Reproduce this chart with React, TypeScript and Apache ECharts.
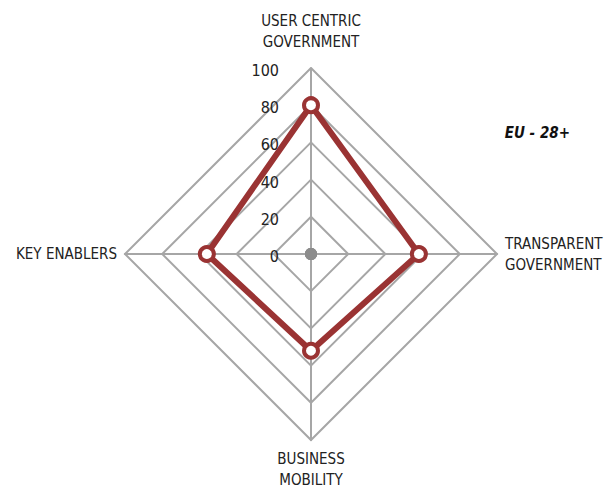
import React, { useEffect, useRef } from "react";
import * as echarts from "echarts";

// Indicators listed counter-clockwise from the top (ECharts order)
const indicatorNames = ["USER CENTRIC\nGOVERNMENT", "KEY ENABLERS", "BUSINESS\nMOBILITY", "TRANSPARENT\nGOVERNMENT"];
const seriesName = "EU - 28+";
const seriesValues = [80, 56, 52, 58];
const centerValues = [0, 0, 0, 0];
const axisMax = 100;

const FONT = "'Liberation Sans Narrow', 'DejaVu Sans Condensed', 'Roboto', sans-serif";

export default function App() {
  const ref = useRef<HTMLDivElement>(null);
  useEffect(() => {
    if (!ref.current) return;
    const chart = echarts.init(ref.current, undefined, { renderer: "svg" });
    chart.setOption({
      animation: false,
      backgroundColor: "#ffffff",
      title: {
        text: seriesName,
        right: 31,
        top: 120,
        textStyle: { fontFamily: FONT, fontSize: 15, fontWeight: "bold", fontStyle: "italic", color: "#111" },
      },
      radar: {
        center: [311, 254],
        radius: 186,
        shape: "polygon",
        startAngle: 90,
        splitNumber: 5,
        nameGap: 8,
        axisName: {
          color: "#222",
          fontFamily: FONT,
          fontSize: 15,
          lineHeight: 21,
          formatter: (name: string) => {
            const lines = name.split("\n").map((l) => `{a|${l}}`).join("\n");
            return name.startsWith("USER") ? `${lines}\n{gap|}` : lines;
          },
          rich: {
            a: { fontFamily: FONT, fontSize: 15, lineHeight: 21, color: "#222" },
            gap: { fontSize: 1, lineHeight: 8 },
          },
        },
        indicator: indicatorNames.map((name, i) =>
          i === 0
            ? { name, max: axisMax, min: 0, axisLabel: { show: true } }
            : { name, max: axisMax, min: 0 }
        ),
        axisLabel: {
          show: false,
          color: "#222",
          fontFamily: FONT,
          fontSize: 16,
          margin: 32,
          formatter: (v: number) => `{v|${v}}`,
          rich: {
            v: { fontFamily: FONT, fontSize: 16, color: "#222", padding: [5, 0, 0, 0] },
          },
        },
        axisLine: { lineStyle: { color: "#a6a6a6", width: 2 } },
        splitLine: { lineStyle: { color: "#a6a6a6", width: 2 } },
        splitArea: { show: false },
      },
      series: [
        {
          type: "radar",
          data: [
            {
              name: seriesName,
              value: seriesValues,
              symbol: "circle",
              symbolSize: 14,
              lineStyle: { color: "#9a3333", width: 6 },
              itemStyle: { color: "#ffffff", borderColor: "#9a3333", borderWidth: 4 },
            },
            {
              name: "center",
              value: centerValues,
              symbol: "circle",
              symbolSize: 12,
              lineStyle: { width: 0, opacity: 0 },
              itemStyle: { color: "#8c8c8c", borderWidth: 0 },
            },
          ],
        },
      ],
    });
    return () => chart.dispose();
  }, []);
  return <div ref={ref} style={{ position: "fixed", left: 0, top: 0, width: 606, height: 485 }} />;
}
